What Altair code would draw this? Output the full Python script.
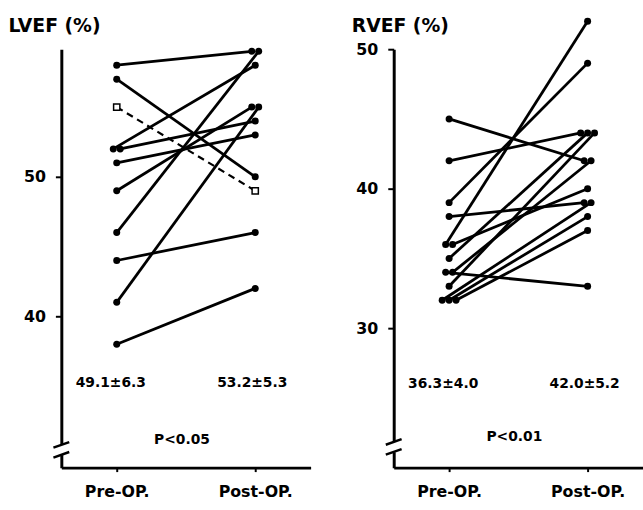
import altair as alt
import pandas as pd

PHASES = ["Pre-OP.", "Post-OP."]

# LVEF (%) individual patients (solid lines)
lv_pre = [58, 57, 52, 52, 51, 49, 46, 44, 41, 38]
lv_post = [59, 50, 58, 54, 53, 55, 59, 46, 55, 42]
# LVEF patient drawn with open squares and dashed line
lv_open_pre = [55]
lv_open_post = [49]

# RVEF (%) individual patients
rv_pre = [45, 42, 39, 38, 36, 36, 35, 34, 34, 33, 32, 32, 32]
rv_post = [42, 44, 49, 39, 52, 40, 44, 33, 42, 44, 39, 38, 37]

lv_stats = ["49.1±6.3", "53.2±5.3"]
lv_p = "P<0.05"
rv_stats = ["36.3±4.0", "42.0±5.2"]
rv_p = "P<0.01"

FONT = "DejaVu Sans"
SPREAD = 7  # pixel spacing between coincident dots


def long_df(pre, post, open_pre=(), open_post=()):
    rows = []
    for i, (a, b) in enumerate(zip(pre, post)):
        rows.append({"patient": f"s{i}", "phase": PHASES[0], "value": a, "open": False})
        rows.append({"patient": f"s{i}", "phase": PHASES[1], "value": b, "open": False})
    for i, (a, b) in enumerate(zip(open_pre, open_post)):
        rows.append({"patient": f"o{i}", "phase": PHASES[0], "value": a, "open": True})
        rows.append({"patient": f"o{i}", "phase": PHASES[1], "value": b, "open": True})
    df = pd.DataFrame(rows)
    g = df.groupby(["phase", "value"])
    df["jit"] = (g.cumcount() - (g["value"].transform("size") - 1) / 2) * SPREAD
    return df


def panel(df, domain, ticks, title, title_x, stats, ptext, stat_y, p_y, breaks, gap):
    x_enc = alt.X(
        "phase:N",
        sort=PHASES,
        scale=alt.Scale(type="point", padding=0.4),
        axis=alt.Axis(
            title=None, labelAngle=0, labelFont=FONT, labelFontSize=16,
            labelFontWeight="bold", labelColor="black", labelPadding=12,
            domainColor="black", domainWidth=3, tickColor="black",
            tickWidth=2, tickSize=4, grid=False,
        ),
    )
    y_enc = alt.Y(
        "value:Q",
        scale=alt.Scale(domain=domain, nice=False, zero=False),
        axis=alt.Axis(
            values=ticks, title=title, titleAngle=0, titleX=title_x, titleY=-24,
            titleAlign="left", titleBaseline="middle", titleFont=FONT,
            titleFontSize=19, titleFontWeight="bold", titleColor="black",
            labelFont=FONT, labelFontSize=16, labelFontWeight="bold",
            labelColor="black", labelPadding=10, domainColor="black",
            domainWidth=3, tickColor="black", tickWidth=2, tickSize=6,
            grid=False,
        ),
    )
    xo = alt.XOffset("jit:Q", scale=alt.Scale(domain=[-10, 10], range=[-10, 10]))
    base = alt.Chart(df).encode(x=x_enc, y=y_enc, xOffset=xo, detail="patient:N")
    solid = base.transform_filter("!datum.open").mark_line(color="black", strokeWidth=2.8)
    dashed = base.transform_filter("datum.open").mark_line(
        color="black", strokeWidth=2.2, strokeDash=[7, 5])
    dots = base.transform_filter("!datum.open").mark_circle(
        color="black", size=50, opacity=1)
    squares = base.transform_filter("datum.open").mark_point(
        shape="square", filled=True, fill="white", stroke="black",
        strokeWidth=1.5, size=40, opacity=1)

    ann = pd.DataFrame({"phase": [PHASES[0], PHASES[1]], "value": [stat_y, stat_y], "text": stats})
    ann_layers = []
    for i, dx in enumerate([-6, -3]):
        ann_layers.append(
            alt.Chart(ann.iloc[[i]]).mark_text(
                font=FONT, fontSize=14, fontWeight="bold", color="black", dx=dx
            ).encode(x=alt.X("phase:N", sort=PHASES), y="value:Q", text="text:N")
        )
    pdf = pd.DataFrame({"phase": [PHASES[0]], "value": [p_y], "text": [ptext]})
    p_layer = alt.Chart(pdf).mark_text(
        font=FONT, fontSize=14, fontWeight="bold", color="black", dx=66
    ).encode(x=alt.X("phase:N", sort=PHASES), y="value:Q", text="text:N")

    gap_df = pd.DataFrame({"lo": [gap[0]], "hi": [gap[1]]})
    gap_layer = alt.Chart(gap_df).mark_rect(color="white").encode(
        x=alt.value(-3), x2=alt.value(3), y="lo:Q", y2="hi:Q")
    br_df = pd.DataFrame({"lo": [b - 0.2 for b in breaks], "hi": [b + 0.2 for b in breaks]})
    br_layer = alt.Chart(br_df).mark_rule(color="black", strokeWidth=2.5).encode(
        x=alt.value(-8), x2=alt.value(8), y="lo:Q", y2="hi:Q")

    return alt.layer(
        gap_layer, br_layer, solid, dashed, dots, squares, *ann_layers, p_layer
    ).properties(width=252, height=423)


left = panel(
    long_df(lv_pre, lv_post, lv_open_pre, lv_open_post),
    [29.15, 59.15], [40, 50], "LVEF (%)", -54,
    lv_stats, lv_p, 35.2, 31.1, [30.78, 30.07], [30.05, 30.8],
)
right = panel(
    long_df(rv_pre, rv_post),
    [20.0, 50.0], [30, 40, 50], "RVEF (%)", -43,
    rv_stats, rv_p, 26.0, 22.2, [21.84, 21.13], [21.1, 21.85],
)

chart = (
    alt.hconcat(left, right, spacing=41)
    .resolve_scale(y="independent")
    .properties(padding={"left": 8, "top": 13, "right": 0, "bottom": 0}, background="white")
    .configure_view(stroke=None)
)

chart.save("out.html", embed_options={"renderer": "svg", "actions": False})
